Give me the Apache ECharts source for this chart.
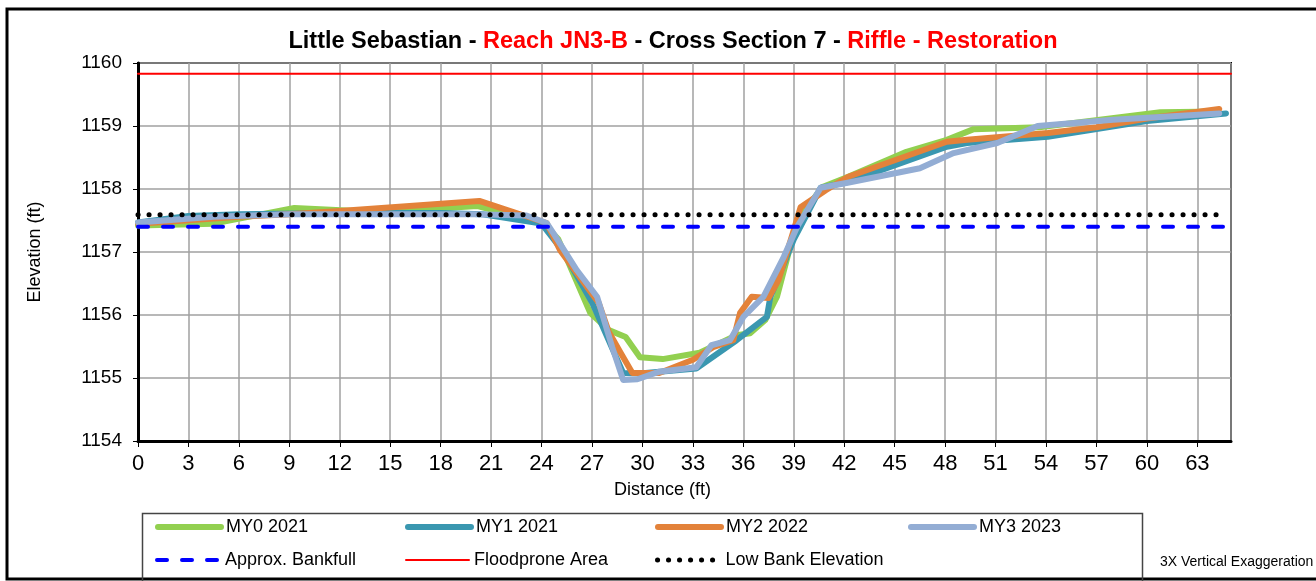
<!DOCTYPE html>
<html>
<head>
<meta charset="utf-8">
<script src="https://cdn.jsdelivr.net/npm/echarts@6/dist/echarts.min.js"></script>
<style>
html,body{margin:0;padding:0;background:#fff;}
#chart{width:1316px;height:581px;}
</style>
</head>
<body>
<div id="chart"></div>
<script>
// ---- Data ----
const xTicks = [0,3,6,9,12,15,18,21,24,27,30,33,36,39,42,45,48,51,54,57,60,63];
const yTicks = [1154,1155,1156,1157,1158,1159,1160];

const my0Dist = [0, 4.5, 9.3, 13.0, 17.0, 20.2, 24.1, 25.0, 26.9, 28.0, 29.0, 29.85, 31.2, 33.4, 35.6, 36.4, 37.3, 38.0, 39.2, 40.7, 42.2, 45.7, 48.1, 49.7, 53.6, 60.8, 64.2];
const my0Elev = [1157.42, 1157.45, 1157.70, 1157.65, 1157.68, 1157.73, 1157.46, 1157.20, 1156.03, 1155.76, 1155.65, 1155.33, 1155.30, 1155.40, 1155.68, 1155.71, 1155.92, 1156.29, 1157.50, 1158.03, 1158.19, 1158.59, 1158.78, 1158.95, 1158.98, 1159.22, 1159.23];

const my1Dist = [0, 3.0, 6.0, 12.0, 18.0, 20.5, 24.0, 25.3, 27.0, 28.85, 29.85, 33.2, 35.6, 37.4, 37.6, 39.0, 40.6, 42.2, 48.1, 49.3, 54.1, 60.0, 64.7];
const my1Elev = [1157.47, 1157.57, 1157.60, 1157.62, 1157.62, 1157.60, 1157.45, 1157.00, 1156.20, 1155.08, 1155.07, 1155.15, 1155.60, 1155.97, 1156.28, 1157.20, 1158.02, 1158.11, 1158.67, 1158.73, 1158.83, 1159.08, 1159.20];

const my2Dist = [0, 6.0, 9.0, 12.0, 20.3, 24.3, 25.1, 27.4, 28.0, 28.7, 29.4, 31.0, 33.0, 34.2, 35.4, 35.8, 36.5, 37.5, 38.1, 39.0, 39.4, 40.9, 42.2, 48.1, 49.3, 54.1, 57.0, 60.0, 64.3];
const my2Elev = [1157.45, 1157.56, 1157.60, 1157.65, 1157.81, 1157.46, 1157.03, 1156.19, 1155.73, 1155.40, 1155.08, 1155.08, 1155.29, 1155.49, 1155.60, 1156.03, 1156.29, 1156.27, 1156.56, 1157.35, 1157.71, 1157.98, 1158.19, 1158.75, 1158.78, 1158.89, 1158.98, 1159.12, 1159.27];

const my3Dist = [0, 4.5, 9.0, 15.0, 20.0, 23.1, 24.3, 24.7, 26.1, 27.3, 28.2, 28.85, 29.7, 31.0, 33.2, 34.1, 35.2, 36.0, 37.2, 38.4, 39.2, 40.6, 42.2, 46.5, 48.5, 51.1, 53.5, 58.0, 64.3];
const my3Elev = [1157.47, 1157.56, 1157.60, 1157.60, 1157.60, 1157.58, 1157.46, 1157.30, 1156.71, 1156.29, 1155.49, 1154.97, 1154.98, 1155.10, 1155.17, 1155.52, 1155.60, 1155.97, 1156.29, 1156.92, 1157.40, 1158.02, 1158.10, 1158.33, 1158.57, 1158.73, 1159.00, 1159.10, 1159.20];

const bankfullDist = [0, 64.7];
const bankfullElev = [1157.40, 1157.40];
const floodDist = [0, 65];
const floodElev = [1159.83, 1159.83];
const lowBankDist = [0, 64.5];
const lowBankElev = [1157.59, 1157.59];

const seriesNames = ['MY0 2021','MY1 2021','MY2 2022','MY3 2023','Approx. Bankfull','Floodprone Area','Low Bank Elevation'];

// ---- Build ----
function pairs(xs, ys){ return xs.map((x,i)=>[x, ys[i]]); }
const FONT = "'Liberation Sans',Arial,sans-serif";

const dataSets = [
  {d: pairs(my0Dist,my0Elev), color:'#92D050', width:6, type:'solid'},
  {d: pairs(my1Dist,my1Elev), color:'#3A97B0', width:6, type:'solid'},
  {d: pairs(my2Dist,my2Elev), color:'#E3823A', width:6, type:'solid'},
  {d: pairs(my3Dist,my3Elev), color:'#93ADD4', width:6, type:'solid'},
  {d: pairs(bankfullDist,bankfullElev), color:'#0000FF', width:4, type:[10,15]},
  {d: pairs(floodDist,floodElev), color:'#FF0000', width:2, type:'solid'},
  {d: pairs(lowBankDist,lowBankElev), color:'#000000', width:5, type:[0.1,10.9]}
];

const series = dataSets.map((s,i)=>({
  name: seriesNames[i],
  type: 'line',
  data: s.d,
  symbol: 'none',
  animation: false,
  z: 2 + i,
  lineStyle: {color: s.color, width: s.width, type: s.type, cap: 'round', join: 'round'},
  itemStyle: {color: s.color}
}));

const legendPos = [
  [155,518],[405,518],[655,518],[908,518],
  [155,551],[405,551],[655,551]
];
const legends = seriesNames.map((n,i)=>({
  data: [n],
  left: legendPos[i][0],
  top: legendPos[i][1],
  orient: 'horizontal',
  padding: 0,
  itemWidth: 63,
  itemHeight: 20,
  itemGap: 0,
  selectedMode: false,
  itemStyle: {opacity: 0},
  lineStyle: {width: dataSets[i].width},
  textStyle: {fontFamily: FONT, fontSize: 18, color: '#000'}
}));

const option = {
  animation: false,
  textStyle: {fontFamily: FONT},
  title: {
    text: '{b|Little Sebastian - }{r|Reach JN3-B}{b| - Cross Section 7 - }{r|Riffle - Restoration}',
    left: 668,
    top: 25,
    textAlign: 'center',
    textStyle: {
      rich: {
        b: {fontFamily: FONT, fontSize: 23.5, fontWeight: 'bold', color: '#000'},
        r: {fontFamily: FONT, fontSize: 23.5, fontWeight: 'bold', color: '#FF0000'}
      }
    }
  },
  grid: {left: 138, right: 85, top: 63, bottom: 140, show: true, borderColor: '#000', borderWidth: 2, backgroundColor: 'transparent'},
  xAxis: {
    type: 'value', min: xTicks[0], max: 65, interval: 3,
    name: 'Distance (ft)', nameLocation: 'middle', nameGap: 40,
    nameTextStyle: {fontFamily: FONT, fontSize: 18, color: '#000', padding: [0, 44, 0, 0]},
    axisLine: {show: true, onZero: false, lineStyle: {color: '#000', width: 3}},
    axisTick: {show: true, inside: false, length: 6, lineStyle: {color: '#000', width: 1}},
    axisLabel: {fontFamily: FONT, fontSize: 22, color: '#000', margin: 12, showMaxLabel: false},
    splitLine: {show: true, lineStyle: {color: '#A0A0A0', width: 1.5}}
  },
  yAxis: {
    type: 'value', min: yTicks[0], max: yTicks[yTicks.length-1], interval: 1,
    name: 'Elevation (ft)', nameLocation: 'middle', nameGap: 94, nameRotate: 90,
    nameTextStyle: {fontFamily: FONT, fontSize: 18, color: '#000'},
    axisLine: {show: true, onZero: false, lineStyle: {color: '#000', width: 3}},
    axisTick: {show: true, inside: false, length: 5, lineStyle: {color: '#000', width: 1}},
    axisLabel: {fontFamily: FONT, fontSize: 19, color: '#000', margin: 16, formatter: v => String(v)},
    splitLine: {show: true, lineStyle: {color: '#A0A0A0', width: 1.5}}
  },
  legend: legends,
  graphic: [
    {type: 'rect', shape: {x: 7, y: 9, width: 1330, height: 570}, style: {fill: 'none', stroke: '#000', lineWidth: 3}, z: 100, silent: true},
    {type: 'rect', shape: {x: 142.5, y: 513.5, width: 1000, height: 70}, style: {fill: 'none', stroke: '#444', lineWidth: 1.5}, z: 100, silent: true},
    {type: 'text', left: 1160, top: 555, style: {text: '3X Vertical Exaggeration', font: "14px " + FONT, fill: '#000'}, z: 100, silent: true}
  ],
  series: series
};

const chart = echarts.init(document.getElementById('chart'), null, {renderer: 'canvas'});
chart.setOption(option);
</script>
</body>
</html>
